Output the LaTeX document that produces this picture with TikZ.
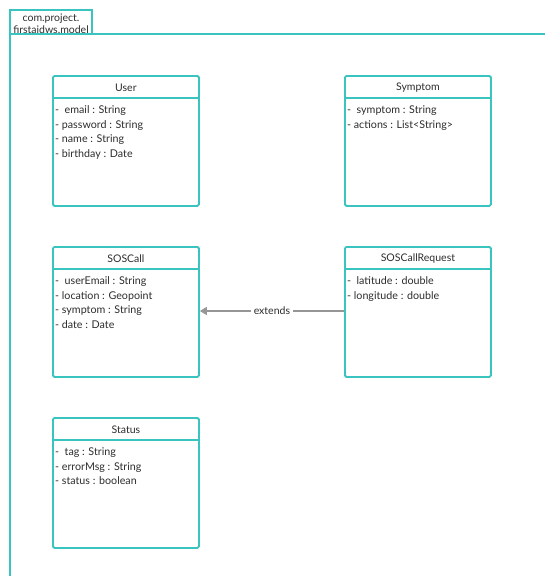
\documentclass[tikz,border=0pt]{standalone}
\usepackage{fontspec}
\setmainfont{Lato}
\usetikzlibrary{arrows.meta}
\definecolor{teal}{RGB}{58,196,192}
\definecolor{ink}{RGB}{45,45,45}
\definecolor{linkgray}{RGB}{150,150,150}
\tikzset{
  classbox/.style={draw=teal, line width=1.8pt, rounded corners=1.5pt, fill=white,
    minimum width=146pt, minimum height=130pt, anchor=north west, inner sep=0pt},
  classhead/.style={text=ink, font=\fontsize{10.5}{12}\selectfont, anchor=center, inner sep=0pt},
  attrs/.style={text=ink, font=\fontsize{10.7}{14.6}\selectfont, align=left, anchor=north west, inner sep=0pt},
  frameline/.style={draw=teal, line width=1.5pt},
}
\begin{document}
\begin{tikzpicture}[x=1pt,y=-1pt]
\useasboundingbox (0,0) rectangle (545,576);
% package frame
\draw[frameline] (10,34) -- (10,10) -- (92,10) -- (92,34);
\draw[frameline] (10,580) -- (10,34) -- (550,34);
\node[text=ink, font=\fontsize{10.5}{12}\selectfont, align=center, inner sep=0pt] (pkg) at (51,23.5) {com.project.\\firstaidws.model};

% class boxes: name compartment on top, attribute list below
\newcommand{\umlclass}[5]{%
  \node[classbox] (#1) at (#2,#3) {};
  \draw[teal, line width=1.8pt] ([yshift=-23pt]#1.north west) -- ([yshift=-23pt]#1.north east);
  \node[classhead] (#1-name) at ([yshift=-12.5pt]#1.north) {#4};
  \node[attrs] (#1-attrs) at ([xshift=3pt,yshift=-30.5pt]#1.north west) {#5};
}
\umlclass{user}{52}{75}{User}{-\ \ email : String\\- password : String\\- name : String\\- birthday : Date}
\umlclass{symptom}{344}{75}{Symptom}{-\ \ symptom : String\\- actions : List<String>}
\umlclass{soscall}{52}{246}{SOSCall}{-\ \ userEmail : String\\- location : Geopoint\\- symptom : String\\- date : Date}
\umlclass{request}{344}{246}{SOSCallRequest}{-\ \ latitude : double\\- longitude : double}
\umlclass{status}{52}{417}{Status}{-\ \ tag : String\\- errorMsg : String\\- status : boolean}

% inheritance
\draw[linkgray, line width=1.2pt, -{Triangle[length=7pt,width=8pt]}]
  ([yshift=-65pt]request.north west) -- node[fill=white, text=ink, font=\fontsize{10.5}{12}\selectfont, inner xsep=3pt, inner ysep=1pt] (ext) {extends} ([yshift=-65pt]soscall.north east);
\end{tikzpicture}
\end{document}
